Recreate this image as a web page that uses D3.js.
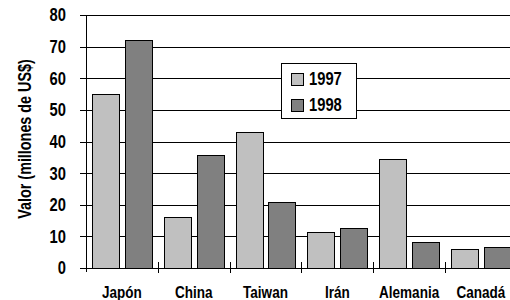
<!DOCTYPE html>
<html>
<head>
<meta charset="utf-8">
<script src="https://cdn.jsdelivr.net/npm/d3@7"></script>
<style>
  body { margin: 0; background: #fff; }
  text { font-family: "Liberation Sans", Arial, sans-serif; font-weight: bold; fill: #000; }
</style>
</head>
<body>
<div id="chart"></div>
<script>
var paises = ["Japón", "China", "Taiwan", "Irán", "Alemania", "Canadá"];
var anios = ["1997", "1998"];
var valores1997 = [55, 16.2, 43, 11.4, 34.6, 6.1];
var valores1998 = [72, 35.8, 21, 12.7, 8.1, 6.6];
var yTicks = [0, 10, 20, 30, 40, 50, 60, 70, 80];
var colores = ["#c0c0c0", "#808080"];

// no narrow font installed, so squeeze the text horizontally
var NARROW = 0.82;

var svg = d3.select("#chart").append("svg")
  .attr("width", 510)
  .attr("height", 300);

var x = d3.scaleBand()
  .domain(paises)
  .range([86, 86 + 6 * 71.8]);

var xs = d3.scaleBand()
  .domain(anios)
  .range([0, x.bandwidth()])
  .paddingInner(0.18)
  .paddingOuter(0.18);

var y = d3.scaleLinear()
  .domain([0, 80])
  .range([268, 15]);

// gridlines
svg.append("g")
  .selectAll("line")
  .data(yTicks)
  .join("line")
  .attr("x1", 80)
  .attr("x2", 510)
  .attr("y1", d => Math.round(y(d)) + 0.5)
  .attr("y2", d => Math.round(y(d)) + 0.5)
  .attr("stroke", "#000")
  .attr("stroke-width", 1);

// y tick labels
svg.append("g")
  .selectAll("text")
  .data(yTicks)
  .join("text")
  .attr("transform", d => "translate(66," + y(d) + ") scale(" + NARROW + ",1)")
  .attr("dy", "0.36em")
  .attr("text-anchor", "end")
  .style("font-size", "18px")
  .text(d => d);

// bars
var datos = [];
paises.forEach(function(p, i){
  datos.push({pais: p, anio: "1997", v: valores1997[i], c: colores[0]});
  datos.push({pais: p, anio: "1998", v: valores1998[i], c: colores[1]});
});

svg.append("g")
  .selectAll("rect")
  .data(datos)
  .join("rect")
  .attr("x", d => Math.round(x(d.pais) + xs(d.anio)) + 0.5)
  .attr("y", d => Math.round(y(d.v)) + 0.5)
  .attr("width", Math.round(xs.bandwidth()))
  .attr("height", d => Math.round(y(0)) - Math.round(y(d.v)))
  .attr("fill", d => d.c)
  .attr("stroke", "#000")
  .attr("stroke-width", 1);

// axes lines
svg.append("line")
  .attr("x1", 86.5).attr("x2", 86.5)
  .attr("y1", 15).attr("y2", 272)
  .attr("stroke", "#000");

svg.append("line")
  .attr("x1", 80).attr("x2", 510)
  .attr("y1", 268.5).attr("y2", 268.5)
  .attr("stroke", "#000");

// x ticks between categories
svg.append("g")
  .selectAll("line")
  .data(paises.slice(1))
  .join("line")
  .attr("x1", d => Math.round(x(d)) + 0.5)
  .attr("x2", d => Math.round(x(d)) + 0.5)
  .attr("y1", 262)
  .attr("y2", 273)
  .attr("stroke", "#000");

// x labels
svg.append("g")
  .selectAll("text")
  .data(paises)
  .join("text")
  .attr("transform", d => "translate(" + (x(d) + x.bandwidth() / 2) + ",298) scale(" + NARROW + ",1)")
  .attr("text-anchor", "middle")
  .style("font-size", "16.5px")
  .text(d => d);

// y axis title
svg.append("text")
  .attr("transform", "translate(31,139) rotate(-90) scale(" + NARROW + ",1)")
  .attr("text-anchor", "middle")
  .style("font-size", "17.5px")
  .text("Valor (millones de US$)");

// legend
var leyenda = svg.append("g").attr("transform", "translate(281,63)");
leyenda.append("rect")
  .attr("x", 0.5).attr("y", 0.5)
  .attr("width", 75).attr("height", 55)
  .attr("fill", "#fff")
  .attr("stroke", "#000");

leyenda.selectAll("rect.sw")
  .data(anios)
  .join("rect")
  .attr("class", "sw")
  .attr("x", 10.5)
  .attr("y", (d, i) => 10.5 + i * 26)
  .attr("width", 12)
  .attr("height", 12)
  .attr("fill", (d, i) => colores[i])
  .attr("stroke", "#000");

leyenda.selectAll("text")
  .data(anios)
  .join("text")
  .attr("transform", (d, i) => "translate(28," + (21.5 + i * 26) + ") scale(" + NARROW + ",1)")
  .style("font-size", "18px")
  .text(d => d);
</script>
</body>
</html>
